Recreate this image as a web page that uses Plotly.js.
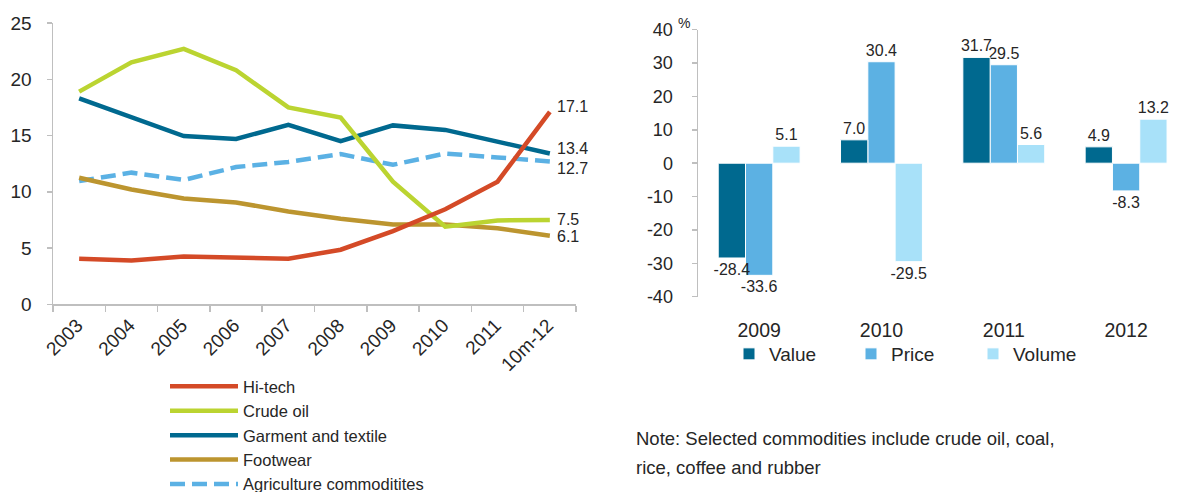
<!DOCTYPE html>
<html>
<head>
<meta charset="utf-8">
<script src="https://cdn.plot.ly/plotly-3.0.1.min.js"></script>
<style>html,body{margin:0;padding:0;background:#fff;}#chart{width:1182px;height:492px;}</style>
</head>
<body>
<div id="chart"></div>
<script>
// ---- Left chart data: share of exports (%) ----
const years = ["2003","2004","2005","2006","2007","2008","2009","2010","2011","10m-12"];
const hiTech    = [4.05, 3.9, 4.25, 4.15, 4.05, 4.85, 6.5, 8.45, 10.9, 17.1];
const crudeOil  = [18.9, 21.5, 22.7, 20.8, 17.5, 16.6, 10.9, 6.9, 7.45, 7.5];
const garment   = [18.3, 16.6, 14.95, 14.7, 15.95, 14.5, 15.9, 15.5, 14.45, 13.4];
const footwear  = [11.25, 10.2, 9.4, 9.05, 8.25, 7.6, 7.1, 7.1, 6.75, 6.1];
const agri      = [10.95, 11.7, 11.05, 12.2, 12.65, 13.35, 12.4, 13.4, 13.05, 12.7];

// ---- Right chart data: growth of selected commodities (%) ----
const barYears = ["2009","2010","2011","2012"];
const valueG  = [-28.4, 7.0, 31.7, 4.9];
const priceG  = [-33.6, 30.4, 29.5, -8.3];
const volumeG = [5.1, -29.5, 5.6, 13.2];
const barTicks = [-40, -30, -20, -10, 0, 10, 20, 30, 40];

const TXT = "#262626";
const FONT = "Liberation Sans, Arial, sans-serif";

const lineSeries = [
  {name: "Hi-tech", y: hiTech, color: "#D44A27", dash: "solid", yshift: 5},
  {name: "Crude oil", y: crudeOil, color: "#BBD431", dash: "solid", yshift: 0},
  {name: "Garment and textile", y: garment, color: "#00698F", dash: "solid", yshift: 5},
  {name: "Footwear", y: footwear, color: "#BC952F", dash: "solid", yshift: -1},
  {name: "Agriculture commoditites", y: agri, color: "#5BB1E4", dash: "15px,7px", yshift: -7}
];

// drawn in reverse so Hi-tech sits on top; legend shows them in listed order
const traces = lineSeries.slice().reverse().map(s => ({
  type: "scatter", mode: "lines", name: s.name,
  x: years, y: s.y, xaxis: "x", yaxis: "y",
  line: {color: s.color, width: 4.5, dash: s.dash},
  legend: "legend", hoverinfo: "x+y"
}));

const BW = 0.2232; // bar width in category units
const barSeries = [
  {name: "Value", y: valueG, color: "#00698F", offset: -1.5 * BW},
  {name: "Price", y: priceG, color: "#5CB1E3", offset: -0.5 * BW},
  {name: "Volume", y: volumeG, color: "#A8E1F9", offset: 0.5 * BW}
];
// drawn in reverse so the Value labels sit on top of neighbouring bars
barSeries.slice().reverse().forEach(s => traces.push({
  type: "bar", name: s.name, x: barYears, y: s.y, xaxis: "x2", yaxis: "y2",
  width: BW, offset: s.offset,
  marker: {color: s.color, line: {color: "#ffffff", width: 1}},
  text: s.y.map(v => v.toFixed(1)), texttemplate: "%{text}",
  textposition: "outside", constraintext: "none",
  cliponaxis: false, textfont: {size: 16, color: TXT, family: FONT},
  legend: "legend2"
}));

const annotations = lineSeries.map(s => ({
  xref: "x", yref: "y", x: years[years.length - 1], y: s.y[s.y.length - 1],
  text: s.y[s.y.length - 1].toFixed(1), showarrow: false,
  xanchor: "left", yanchor: "middle", xshift: 5, yshift: s.yshift,
  font: {size: 16, color: TXT, family: FONT}
}));
annotations.push({xref: "paper", yref: "paper", x: 676 / 1182, y: (492 - 23) / 492,
  text: "%", showarrow: false, xanchor: "left", yanchor: "middle",
  font: {size: 14, color: TXT, family: FONT}});
annotations.push({xref: "paper", yref: "paper", x: 634 / 1182, y: (492 - 438) / 492,
  text: "Note: Selected commodities include crude oil, coal,", showarrow: false,
  xanchor: "left", yanchor: "middle", font: {size: 18.5, color: TXT, family: FONT}});
annotations.push({xref: "paper", yref: "paper", x: 634 / 1182, y: (492 - 467) / 492,
  text: "rice, coffee and rubber", showarrow: false,
  xanchor: "left", yanchor: "middle", font: {size: 18.5, color: TXT, family: FONT}});

const GRAY = "#BFBFBF";
const layout = {
  width: 1182, height: 492,
  margin: {l: 0, r: 0, t: 0, b: 0, autoexpand: false},
  paper_bgcolor: "#ffffff", plot_bgcolor: "rgba(0,0,0,0)",
  font: {family: FONT, color: TXT, size: 18},
  showlegend: true,
  barmode: "overlay",
  xaxis: {domain: [53 / 1182, 576 / 1182], anchor: "y", type: "category",
    range: [-0.5, years.length - 0.5], autorange: false,
    showline: true, linecolor: GRAY, linewidth: 1.5, ticks: "outside", ticklen: 6,
    tickcolor: GRAY, tickwidth: 1.5, tickson: "boundaries", tickangle: -45,
    showgrid: false, zeroline: false, tickfont: {size: 19, color: TXT},
    ticklabelstandoff: 1, ticklabelshift: -2},
  yaxis: {domain: [(492 - 304.3) / 492, (492 - 23) / 492], anchor: "x",
    range: [0, 25], dtick: 5, showline: true, linecolor: GRAY, linewidth: 1.5,
    ticks: "outside", ticklen: 5, tickcolor: GRAY, tickwidth: 1.5,
    showgrid: false, zeroline: false, tickfont: {size: 19, color: TXT}, ticklabelstandoff: 11},
  xaxis2: {domain: [698 / 1182, 1], anchor: "y2", type: "category",
    categoryorder: "array", categoryarray: barYears,
    range: [-0.5, 3.457], autorange: false, showline: false, ticks: "", showgrid: false, zeroline: false,
    tickfont: {size: 19.5, color: TXT}, ticklabelstandoff: 20},
  xaxis3: {domain: [698 / 1182, 1], anchor: "free", overlaying: "x2", position: (492 - 163.2) / 492,
    type: "linear", range: [-0.5, 3.457], tick0: 0.5, dtick: 1,
    showline: true, linecolor: GRAY, linewidth: 1.5, ticks: "outside", ticklen: 6,
    tickcolor: GRAY, tickwidth: 1.5, showticklabels: false, showgrid: false, zeroline: false},
  yaxis2: {domain: [(492 - 296.7) / 492, (492 - 29.7) / 492], anchor: "x2",
    range: [-40, 40], tickmode: "array", tickvals: barTicks, ticktext: barTicks.map(String),
    showline: true, linecolor: GRAY, linewidth: 1.5,
    ticks: "outside", ticklen: 5, tickcolor: GRAY, tickwidth: 1.5,
    showgrid: false, zeroline: false, tickfont: {size: 18, color: TXT}, ticklabelstandoff: 15},
  legend: {x: 165 / 1182, xanchor: "left", y: -10 / 492, yanchor: "bottom",
    orientation: "v", bgcolor: "rgba(0,0,0,0)", font: {size: 16.5, color: TXT},
    tracegroupgap: 0, itemwidth: 68, traceorder: "reversed"},
  legend2: {x: 729 / 1182, xanchor: "left", y: (492 - 354) / 492, yanchor: "middle",
    orientation: "h", bgcolor: "rgba(0,0,0,0)", font: {size: 19, color: TXT},
    entrywidth: 77, entrywidthmode: "pixels", itemwidth: 30, traceorder: "reversed"},
  annotations: annotations
};

Plotly.newPlot("chart", traces, layout, {staticPlot: true, displayModeBar: false});
</script>
</body>
</html>
